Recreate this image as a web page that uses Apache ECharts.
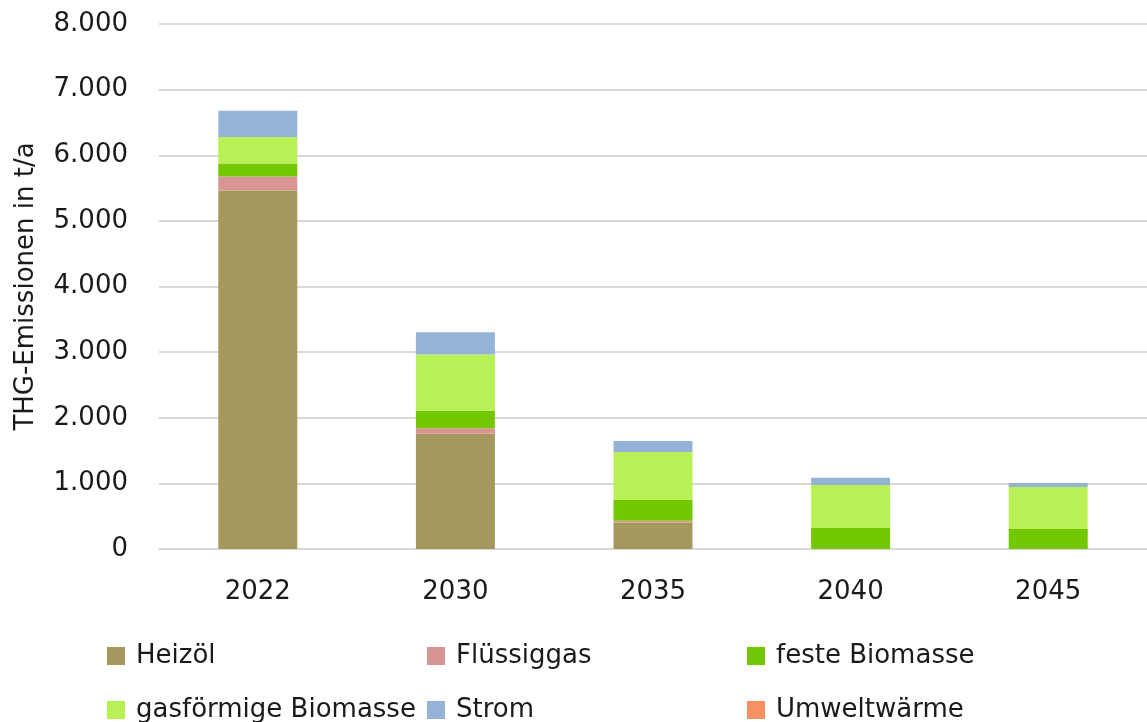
<!DOCTYPE html>
<html>
<head>
<meta charset="utf-8">
<script src="https://cdn.jsdelivr.net/npm/echarts@6/dist/echarts.min.js"></script>
<style>
  html, body { margin: 0; padding: 0; background: #fff; }
  #chart { width: 1147px; height: 722px; }
</style>
</head>
<body>
<div id="chart"></div>
<script>
// Treibhausgasemissionen nach Energieträger (t/a)
const years = ['2022', '2030', '2035', '2040', '2045'];
const heizoel = [5462, 1758, 400, 0, 0];
const fluessiggas = [213, 82, 30, 0, 0];
const festeBiomasse = [198, 268, 316, 320, 305];
const gasBiomasse = [407, 854, 732, 656, 640];
const strom = [397, 341, 167, 111, 61];
const umweltwaerme = [0, 0, 0, 0, 0];
const yTicks = [0, 1000, 2000, 3000, 4000, 5000, 6000, 7000, 8000];

const seriesDefs = [
  { name: 'Heizöl', data: heizoel, color: '#A5985E' },
  { name: 'Flüssiggas', data: fluessiggas, color: '#D99594' },
  { name: 'feste Biomasse', data: festeBiomasse, color: '#74C800' },
  { name: 'gasförmige Biomasse', data: gasBiomasse, color: '#B8F056' },
  { name: 'Strom', data: strom, color: '#95B3D7' },
  { name: 'Umweltwärme', data: umweltwaerme, color: '#F79062' }
];

const FONT = '"DejaVu Sans", sans-serif';
const fmt = v => String(v).replace(/\B(?=(\d{3})+(?!\d))/g, '.');

// legend placed in a 3-column grid
const legendPos = [
  [107, 643], [427, 643], [747, 643],
  [107, 697], [427, 697], [747, 697]
];

const chart = echarts.init(document.getElementById('chart'), null, { renderer: 'canvas' });
chart.setOption({
  animation: false,
  backgroundColor: '#ffffff',
  textStyle: { fontFamily: FONT },
  grid: { left: 159, top: 24, width: 992, height: 525, containLabel: false },
  legend: seriesDefs.map((s, i) => ({
    data: [s.name],
    left: legendPos[i][0],
    top: legendPos[i][1],
    itemWidth: 18,
    itemHeight: 18,
    icon: 'rect',
    padding: 0,
    textStyle: { fontSize: 26, color: '#1a1a1a', fontFamily: FONT, padding: [0, 0, 0, 6] }
  })),
  xAxis: {
    type: 'category',
    data: years,
    axisLine: { lineStyle: { color: '#d9d9d9', width: 2 } },
    axisTick: { show: false },
    axisLabel: { fontSize: 26, color: '#1a1a1a', margin: 30, fontFamily: FONT }
  },
  yAxis: {
    type: 'value',
    min: yTicks[0],
    max: yTicks[yTicks.length - 1],
    interval: 1000,
    name: 'THG-Emissionen in t/a',
    nameLocation: 'middle',
    nameGap: 120,
    nameTextStyle: { fontSize: 26, color: '#1a1a1a', fontFamily: FONT },
    axisLine: { show: false },
    axisTick: { show: false },
    splitLine: { lineStyle: { color: '#d9d9d9', width: 2 } },
    axisLabel: { fontSize: 26, color: '#1a1a1a', margin: 31, fontFamily: FONT, formatter: fmt }
  },
  series: seriesDefs.map(s => ({
    name: s.name,
    type: 'bar',
    stack: 'total',
    data: s.data,
    barWidth: 79,
    itemStyle: { color: s.color }
  }))
});
</script>
</body>
</html>
